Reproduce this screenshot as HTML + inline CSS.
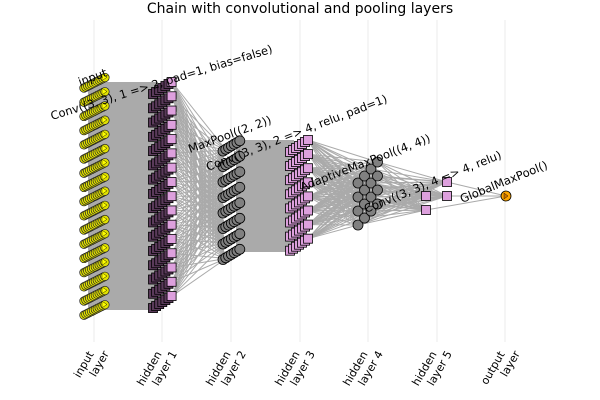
<!DOCTYPE html>
<html><head><meta charset="utf-8"><style>
body{margin:0;background:#fff}
svg{display:block;font-family:"DejaVu Sans","Liberation Sans",sans-serif}
</style></head><body>
<svg id="s" width="600" height="400" viewBox="0 0 600 400" xmlns="http://www.w3.org/2000/svg">
<rect width="600" height="400" fill="#fff"/>
<g stroke="#ebebeb" stroke-width="1">
<line x1="94" y1="20" x2="94" y2="342"/><line x1="162" y1="20" x2="162" y2="342"/>
<line x1="231" y1="20" x2="231" y2="342"/><line x1="300" y1="20" x2="300" y2="342"/>
<line x1="368" y1="20" x2="368" y2="342"/><line x1="437" y1="20" x2="437" y2="342"/>
<line x1="505" y1="20" x2="505" y2="342"/>
</g>
<g id="edges"></g>
<g id="nodes"></g>
<g font-size="11.5" fill="#000">
<text transform="translate(80,86) rotate(-20)">input</text>
<text transform="translate(52,120) rotate(-17)">Conv((3, 3), 1 =&gt; 2, pad=1, bias=false)</text>
<text transform="translate(190,153) rotate(-20)">MaxPool((2, 2))</text>
<text transform="translate(208,171) rotate(-21)">Conv((3, 3), 2 =&gt; 4, relu, pad=1)</text>
<text transform="translate(302,191) rotate(-21)">AdaptiveMaxPool((4, 4))</text>
<text transform="translate(366,213) rotate(-22)">Conv((3, 3), 4 =&gt; 4, relu)</text>
<text transform="translate(462,203) rotate(-22)">GlobalMaxPool()</text>
</g>
<text x="300" y="13" font-size="14" text-anchor="middle">Chain with convolutional and pooling layers</text>
<g font-size="11" text-anchor="end">
<text transform="translate(94,354) rotate(-60)"><tspan x="0" dy="0">input</tspan><tspan x="8" dy="13">layer</tspan></text>
<text transform="translate(162,354) rotate(-60)"><tspan x="0" dy="0">hidden</tspan><tspan x="8" dy="13">layer 1</tspan></text>
<text transform="translate(231,354) rotate(-60)"><tspan x="0" dy="0">hidden</tspan><tspan x="8" dy="13">layer 2</tspan></text>
<text transform="translate(300,354) rotate(-60)"><tspan x="0" dy="0">hidden</tspan><tspan x="8" dy="13">layer 3</tspan></text>
<text transform="translate(368,354) rotate(-60)"><tspan x="0" dy="0">hidden</tspan><tspan x="8" dy="13">layer 4</tspan></text>
<text transform="translate(437,354) rotate(-60)"><tspan x="0" dy="0">hidden</tspan><tspan x="8" dy="13">layer 5</tspan></text>
<text transform="translate(505,354) rotate(-60)"><tspan x="0" dy="0">output</tspan><tspan x="8" dy="13">layer</tspan></text>
</g>
</svg>
<script>
var NS="http://www.w3.org/2000/svg";
function el(p,t,a){var e=document.createElementNS(NS,t);for(var k in a)e.setAttribute(k,a[k]);p.appendChild(e);return e;}
var E=document.getElementById("edges"),N=document.getElementById("nodes");
el(E,"rect",{x:88,y:82,width:70,height:228,fill:"#aaaaaa"});
el(E,"rect",{x:236,y:140,width:58,height:112,fill:"#aaaaaa"});
var h1=[],h2=[],h3=[],h4=[],h5=[[426,196],[426,210],[447,182],[447,196]];
for(var i=0;i<16;i++)h1.push([172,82+i*14.27]);
for(var i=0;i<8;i++)h2.push([240,142+i*15.5]);
for(var i=0;i<8;i++)h3.push([308,140+i*14.1]);
for(var r=0;r<4;r++)for(var c=0;c<4;c++)h4.push([358+c*6.5,183+r*14-c*7]);
function lines(A,B){for(var a of A)for(var b of B)el(E,"line",{x1:a[0],y1:a[1],x2:b[0],y2:b[1],stroke:"#aaaaaa","stroke-width":1});}
lines(h1,h2.map(p=>[p[0]-14,p[1]+8]));
lines(h3,h4);lines(h4,h5);lines(h5,[[506,196]]);
for(var i=0;i<17;i++){var y=83+i*14.2;
 for(var k=0;k<12;k++){var cx=84+k*1.9,cy=y+5-k*0.95;
  el(N,"circle",{cx:cx,cy:cy,r:4.3,fill:"#e0e000",stroke:"#222","stroke-width":0.7});}
 el(N,"path",{d:"M102,"+(y-9)+" l5,3.3 l-5,3.3z",fill:"#ffff00",stroke:"#000","stroke-width":0.4});
}
for(var p of h1){for(var k=0;k<7;k++){var x=p[0]-19+k*3.1,y=p[1]+12-k*2;
 el(N,"rect",{x:x-4.5,y:y-4.5,width:9,height:9,fill:k==6?"#dda0dd":"#5a3a5a",stroke:"#000","stroke-width":0.8});}}
for(var p of h2){for(var k=0;k<7;k++){var x=p[0]-17+k*2.8,y=p[1]+9-k*1.7;
 el(N,"circle",{cx:x,cy:y,r:5,fill:"#808080",stroke:"#000","stroke-width":0.8});}}
for(var p of h3){for(var k=0;k<7;k++){var x=p[0]-18+k*3,y=p[1]+12-k*2;
 el(N,"rect",{x:x-4.5,y:y-4.5,width:9,height:9,fill:"#dda0dd",stroke:"#000","stroke-width":0.8});}}
for(var p of h4)el(N,"circle",{cx:p[0],cy:p[1],r:5,fill:"#808080",stroke:"#000","stroke-width":0.8});
for(var p of h5)el(N,"rect",{x:p[0]-4.5,y:p[1]-4.5,width:9,height:9,fill:"#dda0dd",stroke:"#000","stroke-width":0.8});
el(N,"circle",{cx:506,cy:196,r:5,fill:"#ffa500",stroke:"#000","stroke-width":0.8});
el(N,"path",{d:"M504,193 l4,3 l-4,3z",fill:"#cc7000",stroke:"#000","stroke-width":0.4});
</script>
</body></html>
